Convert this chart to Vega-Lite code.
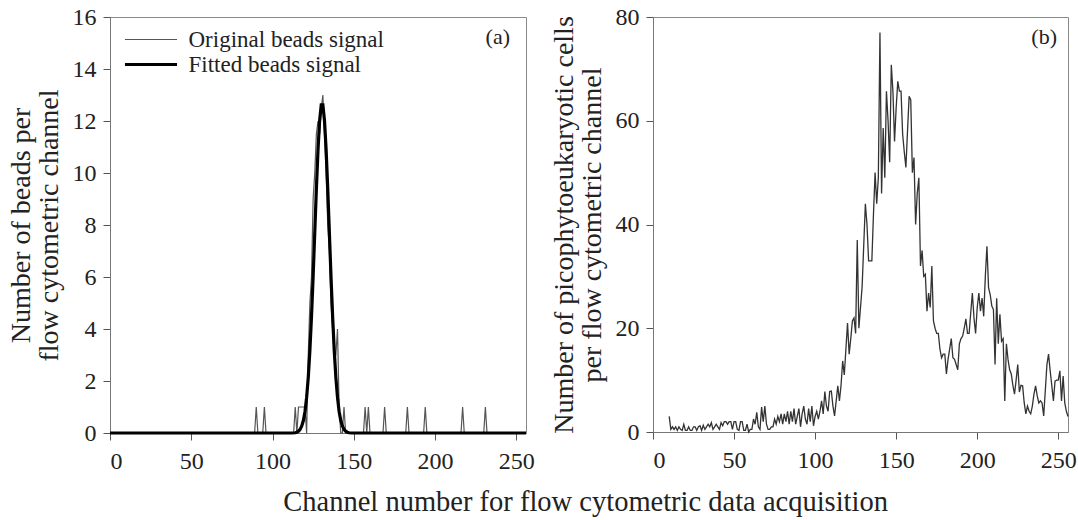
{
  "$schema": "https://vega.github.io/schema/vega-lite/v6.json",
  "background": "white",
  "padding": {"left": 6, "top": 4, "right": 6, "bottom": 4},
  "title": {"text": "Channel number for flow cytometric data acquisition", "orient": "bottom", "anchor": "middle", "fontSize": 28.5, "font": "Liberation Serif", "fontWeight": "normal", "color": "#222", "offset": 14, "dx": 44},
  "spacing": 127,
  "bounds": "flush",
  "datasets": {
    "beads": [
      {"channel": 0, "beads": 0, "series": "Original beads signal"},
      {"channel": 89, "beads": 0, "series": "Original beads signal"},
      {"channel": 90, "beads": 1, "series": "Original beads signal"},
      {"channel": 91, "beads": 0, "series": "Original beads signal"},
      {"channel": 94, "beads": 0, "series": "Original beads signal"},
      {"channel": 95, "beads": 1, "series": "Original beads signal"},
      {"channel": 96, "beads": 0, "series": "Original beads signal"},
      {"channel": 113, "beads": 0, "series": "Original beads signal"},
      {"channel": 114, "beads": 1, "series": "Original beads signal"},
      {"channel": 115, "beads": 0, "series": "Original beads signal"},
      {"channel": 116, "beads": 1, "series": "Original beads signal"},
      {"channel": 117, "beads": 1, "series": "Original beads signal"},
      {"channel": 118, "beads": 1, "series": "Original beads signal"},
      {"channel": 119, "beads": 1, "series": "Original beads signal"},
      {"channel": 120, "beads": 1, "series": "Original beads signal"},
      {"channel": 121, "beads": 0, "series": "Original beads signal"},
      {"channel": 122, "beads": 3, "series": "Original beads signal"},
      {"channel": 123, "beads": 5, "series": "Original beads signal"},
      {"channel": 124, "beads": 6, "series": "Original beads signal"},
      {"channel": 125, "beads": 9, "series": "Original beads signal"},
      {"channel": 126, "beads": 10, "series": "Original beads signal"},
      {"channel": 127, "beads": 11.5, "series": "Original beads signal"},
      {"channel": 128, "beads": 12, "series": "Original beads signal"},
      {"channel": 129, "beads": 11.5, "series": "Original beads signal"},
      {"channel": 130, "beads": 12.5, "series": "Original beads signal"},
      {"channel": 131, "beads": 13, "series": "Original beads signal"},
      {"channel": 132, "beads": 11.5, "series": "Original beads signal"},
      {"channel": 133, "beads": 10, "series": "Original beads signal"},
      {"channel": 134, "beads": 8, "series": "Original beads signal"},
      {"channel": 135, "beads": 7, "series": "Original beads signal"},
      {"channel": 136, "beads": 5, "series": "Original beads signal"},
      {"channel": 137, "beads": 4, "series": "Original beads signal"},
      {"channel": 138, "beads": 3, "series": "Original beads signal"},
      {"channel": 139, "beads": 3, "series": "Original beads signal"},
      {"channel": 140, "beads": 4, "series": "Original beads signal"},
      {"channel": 141, "beads": 1, "series": "Original beads signal"},
      {"channel": 142, "beads": 0, "series": "Original beads signal"},
      {"channel": 143, "beads": 0, "series": "Original beads signal"},
      {"channel": 144, "beads": 1, "series": "Original beads signal"},
      {"channel": 145, "beads": 0, "series": "Original beads signal"},
      {"channel": 156, "beads": 0, "series": "Original beads signal"},
      {"channel": 157, "beads": 1, "series": "Original beads signal"},
      {"channel": 158, "beads": 0, "series": "Original beads signal"},
      {"channel": 159, "beads": 1, "series": "Original beads signal"},
      {"channel": 160, "beads": 0, "series": "Original beads signal"},
      {"channel": 168, "beads": 0, "series": "Original beads signal"},
      {"channel": 169, "beads": 1, "series": "Original beads signal"},
      {"channel": 170, "beads": 0, "series": "Original beads signal"},
      {"channel": 182, "beads": 0, "series": "Original beads signal"},
      {"channel": 183, "beads": 1, "series": "Original beads signal"},
      {"channel": 184, "beads": 0, "series": "Original beads signal"},
      {"channel": 193, "beads": 0, "series": "Original beads signal"},
      {"channel": 194, "beads": 1, "series": "Original beads signal"},
      {"channel": 195, "beads": 0, "series": "Original beads signal"},
      {"channel": 216, "beads": 0, "series": "Original beads signal"},
      {"channel": 217, "beads": 1, "series": "Original beads signal"},
      {"channel": 218, "beads": 0, "series": "Original beads signal"},
      {"channel": 230, "beads": 0, "series": "Original beads signal"},
      {"channel": 231, "beads": 1, "series": "Original beads signal"},
      {"channel": 232, "beads": 0, "series": "Original beads signal"},
      {"channel": 256, "beads": 0, "series": "Original beads signal"},
      {"channel": 0, "beads": 0, "series": "Fitted beads signal"},
      {"channel": 112, "beads": 0, "series": "Fitted beads signal"},
      {"channel": 114, "beads": 0.01, "series": "Fitted beads signal"},
      {"channel": 115, "beads": 0.03, "series": "Fitted beads signal"},
      {"channel": 116, "beads": 0.07, "series": "Fitted beads signal"},
      {"channel": 117, "beads": 0.14, "series": "Fitted beads signal"},
      {"channel": 118, "beads": 0.27, "series": "Fitted beads signal"},
      {"channel": 119, "beads": 0.48, "series": "Fitted beads signal"},
      {"channel": 120, "beads": 0.83, "series": "Fitted beads signal"},
      {"channel": 121, "beads": 1.37, "series": "Fitted beads signal"},
      {"channel": 122, "beads": 2.13, "series": "Fitted beads signal"},
      {"channel": 123, "beads": 3.17, "series": "Fitted beads signal"},
      {"channel": 124, "beads": 4.48, "series": "Fitted beads signal"},
      {"channel": 125, "beads": 6.02, "series": "Fitted beads signal"},
      {"channel": 126, "beads": 7.7, "series": "Fitted beads signal"},
      {"channel": 127, "beads": 9.39, "series": "Fitted beads signal"},
      {"channel": 128, "beads": 10.89, "series": "Fitted beads signal"},
      {"channel": 129, "beads": 12.01, "series": "Fitted beads signal"},
      {"channel": 130, "beads": 12.62, "series": "Fitted beads signal"},
      {"channel": 131, "beads": 12.62, "series": "Fitted beads signal"},
      {"channel": 132, "beads": 12.01, "series": "Fitted beads signal"},
      {"channel": 133, "beads": 10.89, "series": "Fitted beads signal"},
      {"channel": 134, "beads": 9.39, "series": "Fitted beads signal"},
      {"channel": 135, "beads": 7.7, "series": "Fitted beads signal"},
      {"channel": 136, "beads": 6.02, "series": "Fitted beads signal"},
      {"channel": 137, "beads": 4.48, "series": "Fitted beads signal"},
      {"channel": 138, "beads": 3.17, "series": "Fitted beads signal"},
      {"channel": 139, "beads": 2.13, "series": "Fitted beads signal"},
      {"channel": 140, "beads": 1.37, "series": "Fitted beads signal"},
      {"channel": 141, "beads": 0.83, "series": "Fitted beads signal"},
      {"channel": 142, "beads": 0.48, "series": "Fitted beads signal"},
      {"channel": 143, "beads": 0.27, "series": "Fitted beads signal"},
      {"channel": 144, "beads": 0.14, "series": "Fitted beads signal"},
      {"channel": 145, "beads": 0.07, "series": "Fitted beads signal"},
      {"channel": 146, "beads": 0.03, "series": "Fitted beads signal"},
      {"channel": 147, "beads": 0.01, "series": "Fitted beads signal"},
      {"channel": 149, "beads": 0, "series": "Fitted beads signal"},
      {"channel": 256, "beads": 0, "series": "Fitted beads signal"}
    ],
    "cells": [
      {"channel": 10, "cells": 3}, {"channel": 11, "cells": 0.5}, {"channel": 12, "cells": 1}, {"channel": 13, "cells": 0.5},
      {"channel": 14, "cells": 1}, {"channel": 15, "cells": 0.3}, {"channel": 16, "cells": 1}, {"channel": 17, "cells": 0.5},
      {"channel": 18, "cells": 0.3}, {"channel": 19, "cells": 1.5}, {"channel": 20, "cells": 0.3}, {"channel": 21, "cells": 0.3},
      {"channel": 22, "cells": 1}, {"channel": 23, "cells": 0.3}, {"channel": 24, "cells": 0.3}, {"channel": 25, "cells": 1},
      {"channel": 26, "cells": 1}, {"channel": 27, "cells": 0.3}, {"channel": 28, "cells": 1}, {"channel": 29, "cells": 1.2},
      {"channel": 30, "cells": 0.3}, {"channel": 31, "cells": 1.3}, {"channel": 32, "cells": 0.5}, {"channel": 33, "cells": 1},
      {"channel": 34, "cells": 1.5}, {"channel": 35, "cells": 1}, {"channel": 36, "cells": 1.8}, {"channel": 37, "cells": 0.5},
      {"channel": 38, "cells": 1}, {"channel": 39, "cells": 1.5}, {"channel": 40, "cells": 1}, {"channel": 41, "cells": 0.5},
      {"channel": 42, "cells": 1.8}, {"channel": 43, "cells": 1.2}, {"channel": 44, "cells": 2}, {"channel": 45, "cells": 2},
      {"channel": 46, "cells": 1.5}, {"channel": 47, "cells": 2}, {"channel": 48, "cells": 2}, {"channel": 49, "cells": 0.5},
      {"channel": 50, "cells": 2}, {"channel": 51, "cells": 2}, {"channel": 52, "cells": 0.5}, {"channel": 53, "cells": 0.3},
      {"channel": 54, "cells": 2}, {"channel": 55, "cells": 2}, {"channel": 56, "cells": 0.3}, {"channel": 57, "cells": 0.3},
      {"channel": 58, "cells": 1.5}, {"channel": 59, "cells": 0}, {"channel": 60, "cells": 0.5}, {"channel": 61, "cells": 0.5},
      {"channel": 62, "cells": 2.5}, {"channel": 63, "cells": 1.5}, {"channel": 64, "cells": 3.8}, {"channel": 65, "cells": 1},
      {"channel": 66, "cells": 0.5}, {"channel": 67, "cells": 4.8}, {"channel": 68, "cells": 2}, {"channel": 69, "cells": 5},
      {"channel": 70, "cells": 1.5}, {"channel": 71, "cells": 0.5}, {"channel": 72, "cells": 0.5}, {"channel": 73, "cells": 1},
      {"channel": 74, "cells": 1}, {"channel": 75, "cells": 2.5}, {"channel": 76, "cells": 1.5}, {"channel": 77, "cells": 3},
      {"channel": 78, "cells": 2}, {"channel": 79, "cells": 3.5}, {"channel": 80, "cells": 1.5}, {"channel": 81, "cells": 3.5},
      {"channel": 82, "cells": 2}, {"channel": 83, "cells": 4}, {"channel": 84, "cells": 1.5}, {"channel": 85, "cells": 4},
      {"channel": 86, "cells": 2}, {"channel": 87, "cells": 4.5}, {"channel": 88, "cells": 1.5}, {"channel": 89, "cells": 3},
      {"channel": 90, "cells": 4.5}, {"channel": 91, "cells": 1}, {"channel": 92, "cells": 3.5}, {"channel": 93, "cells": 5},
      {"channel": 94, "cells": 2.5}, {"channel": 95, "cells": 1.5}, {"channel": 96, "cells": 4.5}, {"channel": 97, "cells": 2},
      {"channel": 98, "cells": 5}, {"channel": 99, "cells": 1.2}, {"channel": 100, "cells": 3}, {"channel": 101, "cells": 4},
      {"channel": 102, "cells": 2.5}, {"channel": 103, "cells": 4}, {"channel": 104, "cells": 6}, {"channel": 105, "cells": 3.5},
      {"channel": 106, "cells": 7.8}, {"channel": 107, "cells": 5}, {"channel": 108, "cells": 4}, {"channel": 109, "cells": 7.8},
      {"channel": 110, "cells": 7.9}, {"channel": 111, "cells": 5}, {"channel": 112, "cells": 3.1}, {"channel": 113, "cells": 6},
      {"channel": 114, "cells": 8.9}, {"channel": 115, "cells": 6}, {"channel": 116, "cells": 9}, {"channel": 117, "cells": 13.7},
      {"channel": 118, "cells": 11}, {"channel": 119, "cells": 16}, {"channel": 120, "cells": 21}, {"channel": 121, "cells": 15},
      {"channel": 122, "cells": 18}, {"channel": 123, "cells": 21.4}, {"channel": 124, "cells": 22}, {"channel": 125, "cells": 19},
      {"channel": 126, "cells": 37}, {"channel": 127, "cells": 20}, {"channel": 128, "cells": 24}, {"channel": 129, "cells": 28},
      {"channel": 130, "cells": 36}, {"channel": 131, "cells": 44}, {"channel": 132, "cells": 40}, {"channel": 133, "cells": 33},
      {"channel": 134, "cells": 33}, {"channel": 135, "cells": 33}, {"channel": 136, "cells": 42}, {"channel": 137, "cells": 50},
      {"channel": 138, "cells": 44}, {"channel": 139, "cells": 49}, {"channel": 140, "cells": 77}, {"channel": 141, "cells": 46},
      {"channel": 142, "cells": 58.6}, {"channel": 143, "cells": 49}, {"channel": 144, "cells": 65.7}, {"channel": 145, "cells": 60},
      {"channel": 146, "cells": 52}, {"channel": 147, "cells": 70.8}, {"channel": 148, "cells": 65.7}, {"channel": 149, "cells": 56},
      {"channel": 150, "cells": 62.5}, {"channel": 151, "cells": 67.6}, {"channel": 152, "cells": 65.7}, {"channel": 153, "cells": 65.7},
      {"channel": 154, "cells": 57.4}, {"channel": 155, "cells": 54}, {"channel": 156, "cells": 51}, {"channel": 157, "cells": 58},
      {"channel": 158, "cells": 64.7}, {"channel": 159, "cells": 64}, {"channel": 160, "cells": 50}, {"channel": 161, "cells": 52.9},
      {"channel": 162, "cells": 40}, {"channel": 163, "cells": 46}, {"channel": 164, "cells": 49}, {"channel": 165, "cells": 32},
      {"channel": 166, "cells": 35}, {"channel": 167, "cells": 30}, {"channel": 168, "cells": 30.4}, {"channel": 169, "cells": 23.3},
      {"channel": 170, "cells": 26.8}, {"channel": 171, "cells": 24}, {"channel": 172, "cells": 32}, {"channel": 173, "cells": 21.4},
      {"channel": 174, "cells": 20}, {"channel": 175, "cells": 19}, {"channel": 176, "cells": 19}, {"channel": 177, "cells": 16},
      {"channel": 178, "cells": 14.3}, {"channel": 179, "cells": 15}, {"channel": 180, "cells": 15}, {"channel": 181, "cells": 11.2},
      {"channel": 182, "cells": 14}, {"channel": 183, "cells": 16}, {"channel": 184, "cells": 18}, {"channel": 185, "cells": 14.3},
      {"channel": 186, "cells": 14}, {"channel": 187, "cells": 13}, {"channel": 188, "cells": 12}, {"channel": 189, "cells": 17},
      {"channel": 190, "cells": 18}, {"channel": 191, "cells": 18.5}, {"channel": 192, "cells": 20}, {"channel": 193, "cells": 21.8},
      {"channel": 194, "cells": 19}, {"channel": 195, "cells": 19}, {"channel": 196, "cells": 23}, {"channel": 197, "cells": 26.8},
      {"channel": 198, "cells": 22}, {"channel": 199, "cells": 19}, {"channel": 200, "cells": 24}, {"channel": 201, "cells": 26.8},
      {"channel": 202, "cells": 23.3}, {"channel": 203, "cells": 25.8}, {"channel": 204, "cells": 22.3}, {"channel": 205, "cells": 30},
      {"channel": 206, "cells": 35.8}, {"channel": 207, "cells": 27.8}, {"channel": 208, "cells": 26.5}, {"channel": 209, "cells": 24.3},
      {"channel": 210, "cells": 23.6}, {"channel": 211, "cells": 13}, {"channel": 212, "cells": 25.8}, {"channel": 213, "cells": 17},
      {"channel": 214, "cells": 22.7}, {"channel": 215, "cells": 17.5}, {"channel": 216, "cells": 18}, {"channel": 217, "cells": 6},
      {"channel": 218, "cells": 17}, {"channel": 219, "cells": 14}, {"channel": 220, "cells": 12}, {"channel": 221, "cells": 11.2},
      {"channel": 222, "cells": 9}, {"channel": 223, "cells": 7.3}, {"channel": 224, "cells": 10}, {"channel": 225, "cells": 13},
      {"channel": 226, "cells": 7.7}, {"channel": 227, "cells": 9}, {"channel": 228, "cells": 8.9}, {"channel": 229, "cells": 5.6},
      {"channel": 230, "cells": 3.5}, {"channel": 231, "cells": 5}, {"channel": 232, "cells": 4}, {"channel": 233, "cells": 3.5},
      {"channel": 234, "cells": 5}, {"channel": 235, "cells": 7.3}, {"channel": 236, "cells": 8.9}, {"channel": 237, "cells": 7},
      {"channel": 238, "cells": 5.6}, {"channel": 239, "cells": 6}, {"channel": 240, "cells": 5.6}, {"channel": 241, "cells": 3.1},
      {"channel": 242, "cells": 8}, {"channel": 243, "cells": 13}, {"channel": 244, "cells": 15}, {"channel": 245, "cells": 11.8},
      {"channel": 246, "cells": 9}, {"channel": 247, "cells": 6}, {"channel": 248, "cells": 9.8}, {"channel": 249, "cells": 10},
      {"channel": 250, "cells": 10}, {"channel": 251, "cells": 11.8}, {"channel": 252, "cells": 6}, {"channel": 253, "cells": 10.8},
      {"channel": 254, "cells": 5.6}, {"channel": 255, "cells": 4}, {"channel": 256, "cells": 3}
    ]
  },
  "hconcat": [
    {
      "width": 416,
      "height": 416,
      "title": {"text": "(a)", "anchor": "end", "orient": "top", "frame": "group", "offset": -44, "baseline": "top", "dx": -16, "fontSize": 22, "fontWeight": "normal", "font": "Liberation Serif", "color": "#222"},
      "data": {"name": "beads"},
      "encoding": {
        "x": {"field": "channel", "type": "quantitative", "scale": {"domain": [0, 256], "nice": false}, "axis": {"values": [0, 50, 100, 150, 200, 250], "title": null, "labelPadding": 9}},
        "y": {"field": "beads", "type": "quantitative", "scale": {"domain": [0, 16], "nice": false}, "axis": {"values": [0, 2, 4, 6, 8, 10, 12, 14, 16], "title": ["Number of beads per", "flow cytometric channel"]}},
        "color": {"field": "series", "type": "nominal", "scale": {"domain": ["Original beads signal", "Fitted beads signal"], "range": ["#555555", "#000000"]},
          "legend": {"orient": "none", "legendX": 28.5, "legendY": 11, "title": null, "symbolType": "M-2.48,0H2.48", "symbolSize": 441, "rowPadding": -4, "padding": 0, "labelFont": "Liberation Serif", "labelFontSize": 23, "labelColor": "#222", "labelOffset": 25, "labelLimit": 400}},
        "strokeWidth": {"field": "series", "type": "nominal", "scale": {"domain": ["Original beads signal", "Fitted beads signal"], "range": [1.2, 3.2]},
          "legend": {"orient": "none", "legendX": 28.5, "legendY": 11, "title": null, "symbolType": "M-2.48,0H2.48", "symbolSize": 441, "rowPadding": -4, "padding": 0, "labelFont": "Liberation Serif", "labelFontSize": 23, "labelColor": "#222", "labelOffset": 25, "labelLimit": 400}}
      },
      "layer": [
        {"transform": [{"filter": "datum.series === 'Original beads signal'"}], "mark": {"type": "line"}},
        {"transform": [{"filter": "datum.series === 'Fitted beads signal'"}], "mark": {"type": "line"}}
      ]
    },
    {
      "width": 415,
      "height": 415,
      "title": {"text": "(b)", "anchor": "end", "orient": "top", "frame": "group", "offset": -44, "baseline": "top", "dx": -11, "fontSize": 22, "fontWeight": "normal", "font": "Liberation Serif", "color": "#222"},
      "data": {"name": "cells"},
      "mark": {"type": "line", "color": "#333333", "strokeWidth": 1.3},
      "encoding": {
        "x": {"field": "channel", "type": "quantitative", "scale": {"domain": [0, 256], "nice": false}, "axis": {"values": [0, 50, 100, 150, 200, 250], "title": null, "labelPadding": 9}},
        "y": {"field": "cells", "type": "quantitative", "scale": {"domain": [0, 80], "nice": false}, "axis": {"values": [0, 20, 40, 60, 80], "title": ["Number of picophytoeukaryotic cells", "per flow cytometric channel"]}}
      }
    }
  ],
  "config": {
    "font": "Liberation Serif",
    "view": {"stroke": "#888888", "strokeWidth": 1},
    "axis": {"grid": false, "domainColor": "#777777", "tickColor": "#555555", "tickSize": 7, "labelFont": "Liberation Serif", "labelFontSize": 24, "labelColor": "#222222", "labelPadding": 7, "titleFont": "Liberation Serif", "titleFontSize": 28, "titleFontWeight": "normal", "titleColor": "#222222", "titleLineHeight": 28, "titlePadding": 9}
  }
}
